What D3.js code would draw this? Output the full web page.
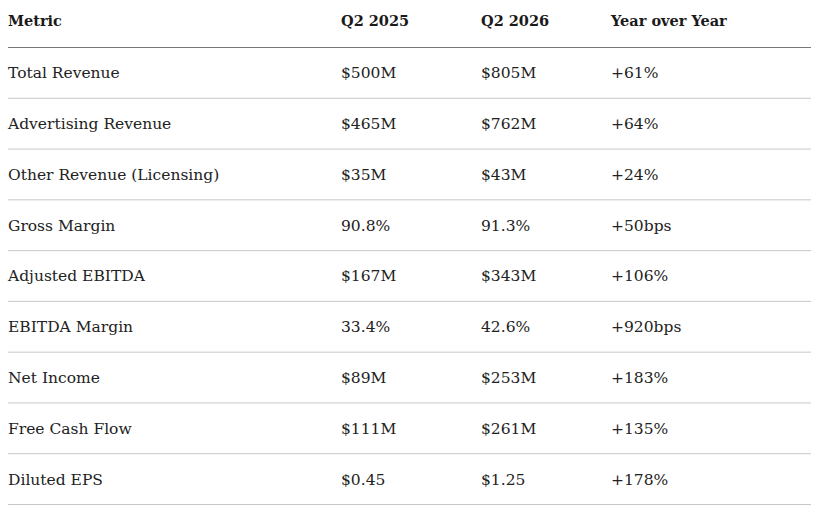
<!DOCTYPE html>
<html><head><meta charset="utf-8">
<script src="https://cdn.jsdelivr.net/npm/d3@7"></script>
<style>body{margin:0;background:#fff}</style>
</head><body><svg id="c" width="817" height="512"></svg>
<script>
const columns = ["Metric", "Q2 2025", "Q2 2026", "Year over Year"];
const metrics = ["Total Revenue", "Advertising Revenue", "Other Revenue (Licensing)", "Gross Margin", "Adjusted EBITDA", "EBITDA Margin", "Net Income", "Free Cash Flow", "Diluted EPS"];
const q2025 = ["$500M", "$465M", "$35M", "90.8%", "$167M", "33.4%", "$89M", "$111M", "$0.45"];
const q2026 = ["$805M", "$762M", "$43M", "91.3%", "$343M", "42.6%", "$253M", "$261M", "$1.25"];
const yoy = ["+61%", "+64%", "+24%", "+50bps", "+106%", "+920bps", "+183%", "+135%", "+178%"];

const svg = d3.select("#c");
const font = "'DejaVu Serif', serif";
const x = d3.scaleOrdinal().domain(columns).range([8, 341, 481, 611]);
const y = d3.scaleBand().domain(d3.range(metrics.length)).range([47.5, 504.5]);

// header
svg.selectAll("text.h").data(columns).join("text")
  .attr("x", d => x(d)).attr("y", 26)
  .attr("font-family", font).attr("font-size", 14.5).attr("font-weight", "bold")
  .attr("fill", "#1a1a1a").text(d => d);
svg.append("line").attr("x1", 8).attr("x2", 811).attr("y1", 47.5).attr("y2", 47.5)
  .attr("stroke", "#777").attr("stroke-width", 1.2);

const rows = metrics.map((m, i) => [m, q2025[i], q2026[i], yoy[i]]);
const g = svg.selectAll("g.r").data(rows).join("g")
  .attr("transform", (d, i) => `translate(0,${y(i)})`);
g.append("line").attr("x1", 8).attr("x2", 811)
  .attr("y1", y.bandwidth()).attr("y2", y.bandwidth())
  .attr("stroke", "#c8c8c8").attr("stroke-width", 1);
g.selectAll("text").data(d => d).join("text")
  .attr("x", (d, j) => x(columns[j])).attr("y", y.bandwidth() / 2 + 5.5)
  .attr("font-family", font).attr("font-size", 15.5)
  .attr("fill", "#222").text(d => d);
</script></body></html>
